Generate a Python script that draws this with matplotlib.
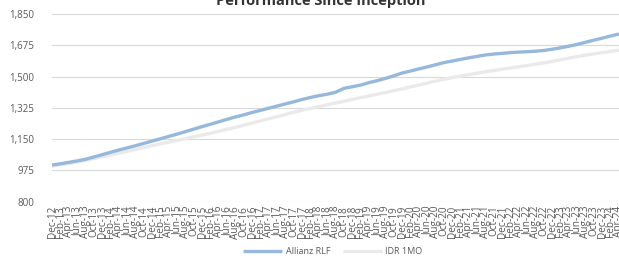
import matplotlib
matplotlib.use("Agg")
import matplotlib.pyplot as plt
import pandas as pd

# Tick labels: every two months from Dec-12 to Apr-24
dates = pd.date_range("2012-12-01", "2024-04-01", freq="2MS")
labels = [d.strftime("%b-%y") for d in dates]

allianz_rlf = [
    1005, 1012, 1020, 1028, 1037, 1050, 1063, 1076, 1089, 1101,
    1113, 1126, 1139, 1152, 1165, 1178, 1192, 1206, 1220, 1233,
    1247, 1261, 1274, 1286, 1299, 1311, 1323, 1335, 1347, 1359,
    1372, 1383, 1393, 1401, 1412, 1434, 1443, 1452, 1466, 1477,
    1490, 1504, 1520, 1531, 1543, 1554, 1566, 1578, 1587, 1596,
    1605, 1613, 1621, 1626, 1630, 1634, 1637, 1639, 1642, 1646,
    1653, 1661, 1670, 1680, 1692, 1704, 1715, 1727, 1738,
]
idr_1mo = [
    1000, 1006, 1014, 1022, 1031, 1041, 1051, 1061, 1071, 1081,
    1092, 1103, 1113, 1123, 1133, 1143, 1153, 1163, 1173, 1183,
    1194, 1205, 1216, 1228, 1240, 1252, 1264, 1276, 1288, 1300,
    1312, 1322, 1332, 1342, 1352, 1362, 1372, 1382, 1391, 1401,
    1411, 1421, 1431, 1442, 1453, 1464, 1475, 1485, 1494, 1503,
    1511, 1519, 1527, 1534, 1541, 1548, 1555, 1562, 1569, 1577,
    1585, 1594, 1603, 1612, 1620, 1627, 1634, 1641, 1648,
]
y_ticks = [800, 975, 1150, 1325, 1500, 1675, 1850]

plt.rcParams["font.family"] = ["Open Sans", "DejaVu Sans"]

fig = plt.figure(figsize=(6.19, 2.59), dpi=100)
ax = fig.add_axes([52 / 619, 1 - 201.7 / 259, 1 - 52 / 619, (201.7 - 14) / 259])

x = list(range(len(labels)))
ax.plot(x, idr_1mo, color="#EAEAEA", lw=2.4, solid_capstyle="butt", zorder=3, label="IDR 1MO")
ax.plot(x, allianz_rlf, color="#96B8DC", lw=2.4, solid_capstyle="butt", zorder=4, label="Allianz RLF")

ax.set_xlim(0, len(labels) - 1)
ax.set_ylim(800, 1850)
ax.set_yticks(y_ticks)
ax.set_yticklabels([f"{v:,}" for v in y_ticks], fontsize=7, color="#595959")
ax.set_xticks(x)
ax.set_xticklabels(labels, rotation=90, fontsize=7.2, color="#595959")
ax.tick_params(axis="both", length=0, pad=3)
ax.tick_params(axis="y", pad=13)
ax.grid(axis="y", color="#D9D9D9", lw=0.8)
ax.set_axisbelow(True)
for s in ax.spines.values():
    s.set_visible(False)

fig.text(321 / 619, 1 - 5 / 259, "Performance Since Inception", ha="center", va="baseline",
         fontsize=10.5, fontweight="bold", color="#333333")

handles, lbls = ax.get_legend_handles_labels()
leg = fig.legend(handles[::-1], lbls[::-1], loc="center", bbox_to_anchor=(333 / 619, 1 - 252 / 259),
                 ncol=2, frameon=False, fontsize=6.5, handlelength=4.3, columnspacing=1.4,
                 handletextpad=0.4)
for t in leg.get_texts():
    t.set_color("#595959")

fig.savefig("out.png", dpi=100)
